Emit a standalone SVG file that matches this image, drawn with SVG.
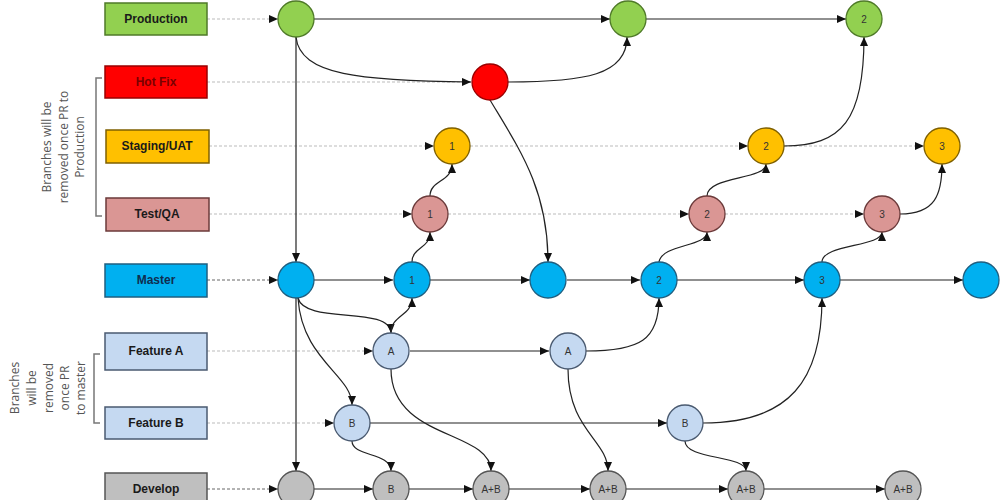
<svg xmlns="http://www.w3.org/2000/svg" width="1000" height="500" viewBox="0 0 1000 500">
<defs>
<marker id="ah" markerUnits="userSpaceOnUse" markerWidth="10" markerHeight="8" refX="9" refY="4" orient="auto">
<path d="M0,0 L9,4 L0,8 Z" fill="#111"/>
</marker>
<style>
.box{stroke-width:1.5}
.lbl{font-family:"Liberation Sans",Arial,sans-serif;font-weight:bold;font-size:12px;text-anchor:middle;fill:#1a1a1a}
.nt{font-family:"Liberation Sans",Arial,sans-serif;font-size:10px;text-anchor:middle;fill:#333}
.side{font-family:"Open Sans",sans-serif;font-size:12px;text-anchor:middle;fill:#555}
.c{stroke-width:1.3}
.solid{fill:none;stroke:#222;stroke-width:1.2;marker-end:url(#ah)}
.dl{fill:none;stroke:#bbb;stroke-width:1;stroke-dasharray:3,2}
.dd{fill:none;stroke:#666;stroke-width:1;stroke-dasharray:3,2}
.arr{marker-end:url(#ah)}
.br{fill:none;stroke:#777;stroke-width:1.5}
.prod{fill:#92D050;stroke:#4f7a28}
.hot{fill:#FF0000;stroke:#9a0000}
.stg{fill:#FFC000;stroke:#7f6000}
.tst{fill:#DA9694;stroke:#6b3a3a}
.mst{fill:#00B0F0;stroke:#1f5f80}
.fea{fill:#C5D9F1;stroke:#4a5a70}
.dev{fill:#BFBFBF;stroke:#555}
</style>
</defs>

<g id="connectors">
<!-- dashed row lines -->
<path class="dl arr" d="M207,19 H278"/>
<path class="dl" d="M207,82 H471"/>
<path class="dl arr" d="M209,146 H434"/>
<path class="dl arr" d="M470,146 H748"/>
<path class="dl arr" d="M784,146 H924"/>
<path class="dl arr" d="M209,214 H412"/>
<path class="dl arr" d="M448,214 H689"/>
<path class="dl arr" d="M725,214 H864"/>
<path class="dd arr" d="M207,280 H278"/>
<path class="dl arr" d="M207,351 H373"/>
<path class="dl arr" d="M207,423 H334"/>
<path class="dd arr" d="M207,489 H278"/>
<!-- production -->
<path class="solid" d="M314,19 H610"/>
<path class="solid" d="M646,19 H846"/>
<path class="solid" d="M296,37 V262"/>
<path class="solid" d="M296,298 V471"/>
<path class="solid" d="M296,37 C300,75 360,81 471,82"/>
<path class="solid" d="M508,82 C585,82 627,75 627,37"/>
<path class="solid" d="M490,100 C520,150 548,190 548,262"/>
<!-- master -->
<path class="solid" d="M314,280 H393"/>
<path class="solid" d="M430,280 H530"/>
<path class="solid" d="M567,280 H640"/>
<path class="solid" d="M677,280 H804"/>
<path class="solid" d="M840,280 H963"/>
<path class="solid" d="M412,262 C412,247 430,249 430,232"/>
<path class="solid" d="M430,196 C430,180 452,182 452,164"/>
<path class="solid" d="M298,298 C305,325 390,305 391,333"/>
<path class="solid" d="M391,333 C391,315 412,316 412,298"/>
<path class="solid" d="M298,298 C302,360 352,375 352,405"/>
<path class="solid" d="M659,262 C662,244 707,247 707,232"/>
<path class="solid" d="M707,196 C707,176 766,180 766,164"/>
<path class="solid" d="M784,146 C842,146 864,120 864,37"/>
<path class="solid" d="M822,262 C822,244 882,247 882,232"/>
<path class="solid" d="M900,214 C935,214 942,195 942,164"/>
<!-- features -->
<path class="solid" d="M410,351 H549"/>
<path class="solid" d="M586,351 C640,351 659,340 659,298"/>
<path class="solid" d="M391,369 C391,440 491,430 491,471"/>
<path class="solid" d="M568,369 C568,430 608,440 608,471"/>
<path class="solid" d="M370,423 H667"/>
<path class="solid" d="M703,423 C790,423 822,380 822,298"/>
<path class="solid" d="M352,441 C352,457 391,452 391,471"/>
<path class="solid" d="M685,441 C685,460 746,455 746,471"/>
<!-- develop -->
<path class="solid" d="M314,489 H373"/>
<path class="solid" d="M409,489 H473"/>
<path class="solid" d="M509,489 H590"/>
<path class="solid" d="M626,489 H728"/>
<path class="solid" d="M764,489 H885"/>
</g>

<g id="brackets">
<path class="br" d="M102,78 H96 V216 H102"/>
<text class="side" transform="translate(47,147) rotate(-90)" dy="0.35em">Branches will be</text>
<text class="side" transform="translate(64,147) rotate(-90)" dy="0.35em">removed once PR to</text>
<text class="side" transform="translate(80,147) rotate(-90)" dy="0.35em">Production</text>
<path class="br" d="M100,354 H94 V423 H100"/>
<text class="side" transform="translate(15,388) rotate(-90)" dy="0.35em">Branches</text>
<text class="side" transform="translate(32,388) rotate(-90)" dy="0.35em">will be</text>
<text class="side" transform="translate(48.5,388) rotate(-90)" dy="0.35em">removed</text>
<text class="side" transform="translate(65,388) rotate(-90)" dy="0.35em">once PR</text>
<text class="side" transform="translate(81,388) rotate(-90)" dy="0.35em">to master</text>
</g>

<g id="label-production"><rect class="box prod" x="105" y="3" width="102" height="32"/><text class="lbl" x="156" y="23">Production</text></g>
<g id="label-hotfix"><rect class="box hot" x="105" y="66" width="102" height="32"/><text class="lbl" x="156" y="86" style="fill:#7a0000">Hot Fix</text></g>
<g id="label-staging"><rect class="box stg" x="106" y="130" width="103" height="33"/><text class="lbl" x="157" y="150">Staging/UAT</text></g>
<g id="label-test"><rect class="box tst" x="106" y="198" width="103" height="33"/><text class="lbl" x="157" y="218">Test/QA</text></g>
<g id="label-master"><rect class="box mst" x="105" y="264" width="102" height="33"/><text class="lbl" x="156" y="284" style="fill:#0f2d4f">Master</text></g>
<g id="label-featureA"><rect class="box fea" x="105" y="333" width="102" height="37"/><text class="lbl" x="156" y="355">Feature A</text></g>
<g id="label-featureB"><rect class="box fea" x="105" y="407" width="102" height="32"/><text class="lbl" x="156" y="427">Feature B</text></g>
<g id="label-develop"><rect class="box dev" x="105" y="473" width="102" height="32"/><text class="lbl" x="156" y="493">Develop</text></g>

<g id="node-P1"><circle class="c prod" cx="296" cy="19" r="18"/></g>
<g id="node-P2"><circle class="c prod" cx="628" cy="19" r="18"/></g>
<g id="node-P3"><circle class="c prod" cx="864" cy="19" r="18"/><text class="nt" x="864" y="23">2</text></g>
<g id="node-H1"><circle class="c hot" cx="490" cy="82" r="18"/></g>
<g id="node-S1"><circle class="c stg" cx="452" cy="146" r="18"/><text class="nt" x="452" y="150">1</text></g>
<g id="node-S2"><circle class="c stg" cx="766" cy="146" r="18"/><text class="nt" x="766" y="150">2</text></g>
<g id="node-S3"><circle class="c stg" cx="942" cy="146" r="18"/><text class="nt" x="942" y="150">3</text></g>
<g id="node-T1"><circle class="c tst" cx="430" cy="214" r="18"/><text class="nt" x="430" y="218">1</text></g>
<g id="node-T2"><circle class="c tst" cx="707" cy="214" r="18"/><text class="nt" x="707" y="218">2</text></g>
<g id="node-T3"><circle class="c tst" cx="882" cy="214" r="18"/><text class="nt" x="882" y="218">3</text></g>
<g id="node-M1"><circle class="c mst" cx="296" cy="280" r="18"/></g>
<g id="node-M2"><circle class="c mst" cx="412" cy="280" r="18"/><text class="nt" x="412" y="284">1</text></g>
<g id="node-M3"><circle class="c mst" cx="548" cy="280" r="18"/></g>
<g id="node-M4"><circle class="c mst" cx="659" cy="280" r="18"/><text class="nt" x="659" y="284">2</text></g>
<g id="node-M5"><circle class="c mst" cx="822" cy="280" r="18"/><text class="nt" x="822" y="284">3</text></g>
<g id="node-M6"><circle class="c mst" cx="981" cy="280" r="18"/></g>
<g id="node-FA1"><circle class="c fea" cx="391" cy="351" r="18"/><text class="nt" x="391" y="355">A</text></g>
<g id="node-FA2"><circle class="c fea" cx="568" cy="351" r="18"/><text class="nt" x="568" y="355">A</text></g>
<g id="node-FB1"><circle class="c fea" cx="352" cy="423" r="18"/><text class="nt" x="352" y="427">B</text></g>
<g id="node-FB2"><circle class="c fea" cx="685" cy="423" r="18"/><text class="nt" x="685" y="427">B</text></g>
<g id="node-D1"><circle class="c dev" cx="296" cy="489" r="18"/></g>
<g id="node-D2"><circle class="c dev" cx="391" cy="489" r="18"/><text class="nt" x="391" y="493">B</text></g>
<g id="node-D3"><circle class="c dev" cx="491" cy="489" r="18"/><text class="nt" x="491" y="493">A+B</text></g>
<g id="node-D4"><circle class="c dev" cx="608" cy="489" r="18"/><text class="nt" x="608" y="493">A+B</text></g>
<g id="node-D5"><circle class="c dev" cx="746" cy="489" r="18"/><text class="nt" x="746" y="493">A+B</text></g>
<g id="node-D6"><circle class="c dev" cx="903" cy="489" r="18"/><text class="nt" x="903" y="493">A+B</text></g>
</svg>
